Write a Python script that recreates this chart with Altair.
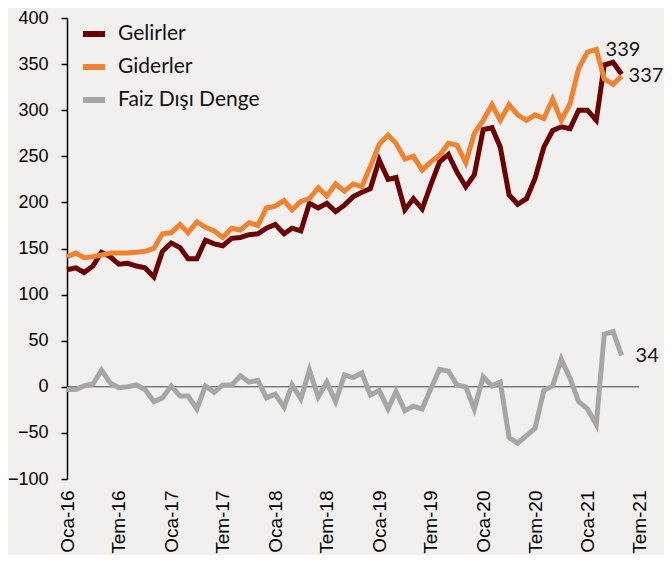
import altair as alt
import pandas as pd

months = pd.date_range("2016-01-01", "2021-05-01", freq="MS").strftime("%Y-%m-%dT00:00:00").tolist()

gelirler = [127, 129, 124, 131, 146, 141, 133, 134, 131, 129, 119, 147,
            156, 151, 139, 139, 159, 155, 153, 161, 162, 165, 166, 172,
            176, 166, 172, 169, 199, 194, 199, 190, 197, 206, 211, 215,
            246, 225, 227, 192, 204, 193, 219, 244, 252, 233, 217, 230,
            279, 281, 260, 208, 198, 204, 226, 260, 278, 282, 280, 300,
            300, 289, 349, 352, 339]
giderler = [141, 145, 140, 141, 143, 145, 145, 145, 146, 147, 150, 166,
            167, 176, 167, 179, 173, 169, 162, 172, 170, 178, 175, 194,
            196, 202, 192, 201, 204, 216, 207, 220, 212, 220, 217, 239,
            263, 273, 264, 247, 250, 235, 244, 251, 264, 262, 243, 275,
            289, 306, 289, 306, 295, 289, 295, 291, 312, 289, 307, 345,
            363, 366, 334, 328, 337]
faiz = [-3, -3, 1, 3, 18, 4, -1, 0, 2, -3, -16, -12,
        1, -10, -10, -24, 1, -6, 2, 2, 12, 5, 7, -12,
        -8, -22, 2, -13, 18, -11, 5, -16, 13, 10, 15, -9,
        -4, -24, -5, -26, -21, -24, -2, 19, 17, 2, 0, -24,
        11, 1, 5, -55, -61, -53, -45, -4, 1, 30, 9, -16,
        -24, -41, 57, 60, 34]

series_names = ["Gelirler", "Giderler", "Faiz Dışı Denge"]
series_colors = ["#6B0000", "#F08232", "#A6A6A6"]
end_labels = ["339", "337", "34"]

rows = []
for name, vals in zip(series_names, [gelirler, giderler, faiz]):
    for m, v in zip(months, vals):
        rows.append({"date": m, "value": v, "series": name})
df = pd.DataFrame(rows)

last = pd.DataFrame({"date": [months[-1]] * 3, "value": [gelirler[-1], giderler[-1], faiz[-1]],
                     "series": series_names, "label": end_labels})

tick_dates = [alt.DateTime(year=2016 + k // 2, month=1 + 6 * (k % 2), date=1) for k in range(12)]

x_enc = alt.X("date:T",
              scale=alt.Scale(domain=[alt.DateTime(year=2016, month=1, date=1),
                                      alt.DateTime(year=2021, month=7, date=1)]),
              axis=alt.Axis(values=tick_dates, labelAngle=270, domain=False, ticks=False,
                            grid=False, labelPadding=11, labelFont="Liberation Sans",
                            labelFontSize=19, labelColor="#000000",
                            labelExpr="(month(datum.value) == 0 ? 'Oca-' : 'Tem-') + timeFormat(datum.value, '%y')",
                            title=None))
y_enc = alt.Y("value:Q",
              scale=alt.Scale(domain=[-100, 400], nice=False),
              axis=alt.Axis(values=list(range(-100, 401, 50)), grid=False, domainColor="#000000",
                            domainWidth=1.5, tickColor="#000000", tickWidth=1.5, tickSize=6,
                            labelPadding=13, labelFont="Liberation Sans", labelFontSize=18,
                            labelColor="#000000", title=None))
color_enc = alt.Color("series:N",
                      scale=alt.Scale(domain=series_names, range=series_colors),
                      legend=alt.Legend(orient="none", legendX=13, legendY=2, title=None,
                                        symbolType="stroke", symbolSize=484, symbolStrokeWidth=6,
                                        labelFont="Lato", labelFontSize=21, labelColor="#111111",
                                        labelOffset=10, rowPadding=7, labelLimit=300))

zero = alt.Chart(pd.DataFrame({"v": [0]})).mark_rule(color="#404040", strokeWidth=1).encode(y="v:Q")

lines = []
for name in series_names:
    lines.append(
        alt.Chart(df).transform_filter(alt.datum.series == name)
        .mark_line(strokeWidth=5)
        .encode(x=x_enc, y=y_enc, color=color_enc)
    )

label_offsets = {"Gelirler": (-16, -24), "Giderler": (7, 0), "Faiz Dışı Denge": (14, 1)}
texts = []
for name in series_names:
    dx, dy = label_offsets[name]
    texts.append(
        alt.Chart(last).transform_filter(alt.datum.series == name)
        .mark_text(align="left", baseline="middle", dx=dx, dy=dy, font="Lato", fontSize=20,
                   color="#111111")
        .encode(x="date:T", y="value:Q", text="label:N")
    )

chart = alt.layer(zero, *lines, *texts).properties(
    width=572, height=461,
    background="#F2F0EE",
    autosize=alt.AutoSizeParams(type="none"),
    padding={"left": 59, "top": 10, "right": 25, "bottom": 76},
).configure_view(stroke=None)

chart.save("out.html", embed_options={"renderer": "svg", "actions": False})
